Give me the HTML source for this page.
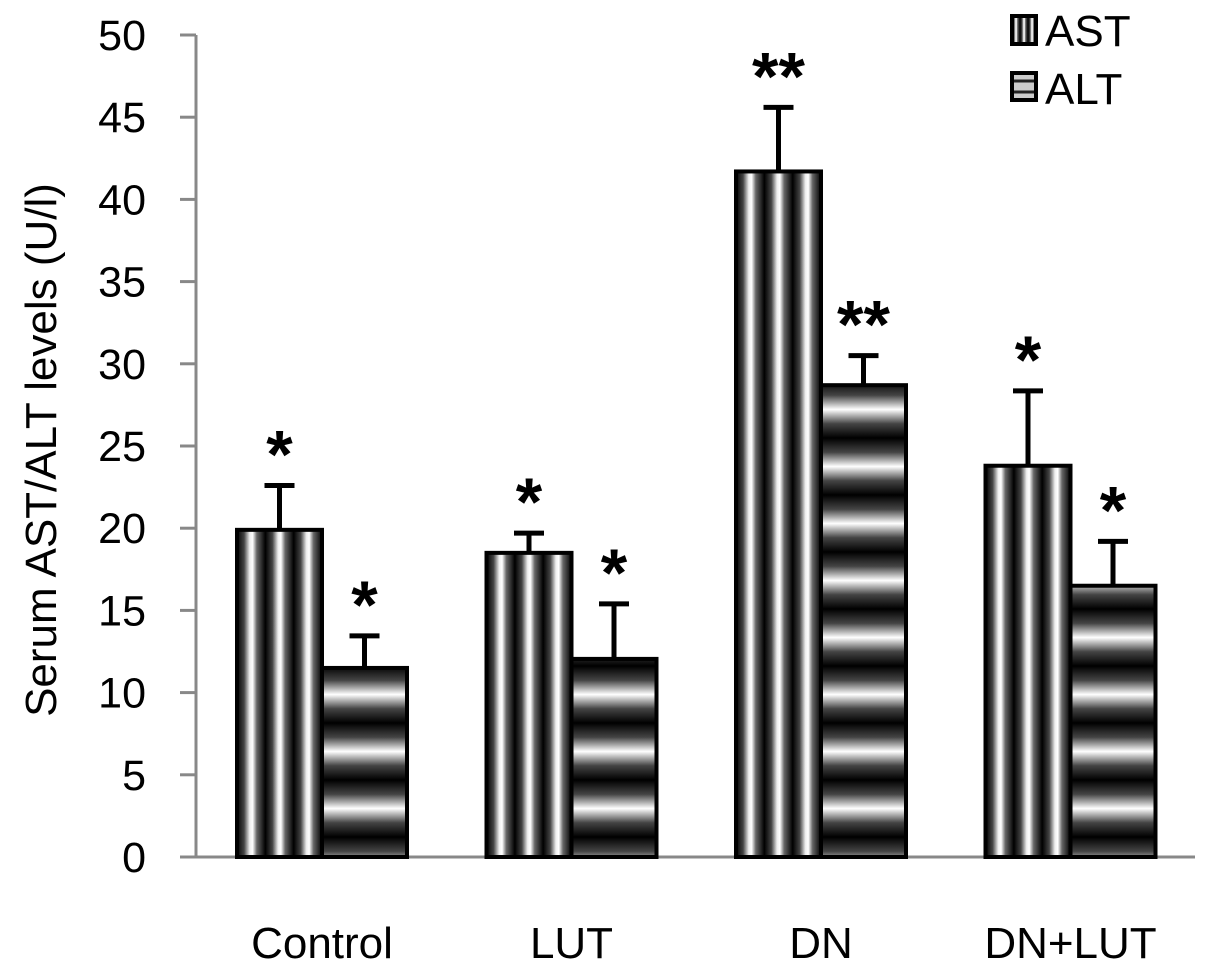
<!DOCTYPE html>
<html><head><meta charset="utf-8"><style>
html,body{margin:0;padding:0;background:#fff;}
svg{display:block;font-family:"Liberation Sans",sans-serif;}
</style></head><body>
<svg id="chart" width="1205" height="973" viewBox="0 0 1205 973">
<defs>
<linearGradient id="gAST" gradientUnits="objectBoundingBox" x1="0" y1="0" x2="0.3333" y2="0" spreadMethod="repeat">
<stop offset="0" stop-color="#000"/><stop offset="0.25" stop-color="#444"/><stop offset="0.45" stop-color="#eee"/><stop offset="0.55" stop-color="#fff"/><stop offset="0.7" stop-color="#666"/><stop offset="1" stop-color="#000"/>
</linearGradient>
<linearGradient id="gALT" gradientUnits="userSpaceOnUse" x1="0" y1="723" x2="0" y2="780" spreadMethod="repeat">
<stop offset="0" stop-color="#000"/><stop offset="0.25" stop-color="#444"/><stop offset="0.5" stop-color="#fff"/><stop offset="0.75" stop-color="#444"/><stop offset="1" stop-color="#000"/>
</linearGradient>
</defs>
<g id="axes"></g>
<g id="bars"></g>
<text x="0" y="0" transform="translate(56,450) rotate(-90)" text-anchor="middle" font-size="44" fill="#000">Serum AST/ALT levels (U/l)</text>
<g>
<rect x="1012" y="16" width="24" height="28" fill="url(#gAST)" stroke="#000" stroke-width="4"/>
<text x="1045" y="46" font-size="44">AST</text>
<rect x="1012" y="73" width="24" height="27" fill="#ccc" stroke="#000" stroke-width="4"/>
<line x1="1014" y1="81" x2="1034" y2="81" stroke="#222" stroke-width="3"/>
<line x1="1014" y1="92" x2="1034" y2="92" stroke="#222" stroke-width="3"/>
<text x="1045" y="104" font-size="44">ALT</text>
</g>
</svg>
<script>
const categories = ["Control","LUT","DN","DN+LUT"];
const astValues = [19.9, 18.5, 41.7, 23.8];
const astErrors = [2.7, 1.2, 3.9, 4.55];
const altValues = [11.5, 12.05, 28.7, 16.5];
const altErrors = [1.95, 3.35, 1.8, 2.7];
const astMarks = ["*","*","**","*"];
const altMarks = ["*","*","**","*"];
const yTicks = [0,5,10,15,20,25,30,35,40,45,50];

const NS="http://www.w3.org/2000/svg";
const y0=857, pxPer=16.44, axisX=196;
const yScale=v=>y0-v*pxPer;
const xCenter=i=>322+i*249.5;
const barW=85;
function mk(tag,attrs,parent){const e=document.createElementNS(NS,tag);for(const k in attrs)e.setAttribute(k,attrs[k]);parent.appendChild(e);return e;}
const axes=document.getElementById('axes'), bars=document.getElementById('bars');
let a=mk('line',{x1:axisX,y1:yScale(50),x2:axisX,y2:y0,stroke:'#888','stroke-width':3},axes);


a=mk('line',{x1:180,y1:y0,x2:1195,y2:y0,stroke:'#888','stroke-width':3},axes);


yTicks.forEach(t=>{
  const tk=mk('line',{x1:180,y1:yScale(t),x2:axisX,y2:yScale(t),stroke:'#888','stroke-width':3},axes);
  
  
  const lb=mk('text',{x:146,y:yScale(t)+15,'text-anchor':'end','font-size':43},axes);
  lb.textContent=t;
  
  
});
function drawBar(x,v,e,mark,fill,name){
  const top=yScale(v), etop=yScale(v+e);
  const l=mk('line',{x1:x+barW/2,y1:top,x2:x+barW/2,y2:etop,stroke:'#000','stroke-width':5},bars);
  
  
  const c=mk('line',{x1:x+barW/2-15,y1:etop,x2:x+barW/2+15,y2:etop,stroke:'#000','stroke-width':5},bars);
  
  
  const r=mk('rect',{x:x,y:top,width:barW,height:y0-top,fill:fill,stroke:'#000','stroke-width':4},bars);
  
  
  const s=mk('text',{x:x+barW/2,y:etop-8,'text-anchor':'middle','font-size':68,'font-weight':'bold'},bars);
  s.textContent=mark;
  
  
}
categories.forEach((c,i)=>{
  const cx=xCenter(i);
  drawBar(cx-barW,astValues[i],astErrors[i],astMarks[i],'url(#gAST)','bar-ast-'+i);
  drawBar(cx,altValues[i],altErrors[i],altMarks[i],'url(#gALT)','bar-alt-'+i);
  const t=mk('text',{x:cx,y:958,'text-anchor':'middle','font-size':44},axes);
  t.textContent=c;
  
  
});
</script>
</body></html>
